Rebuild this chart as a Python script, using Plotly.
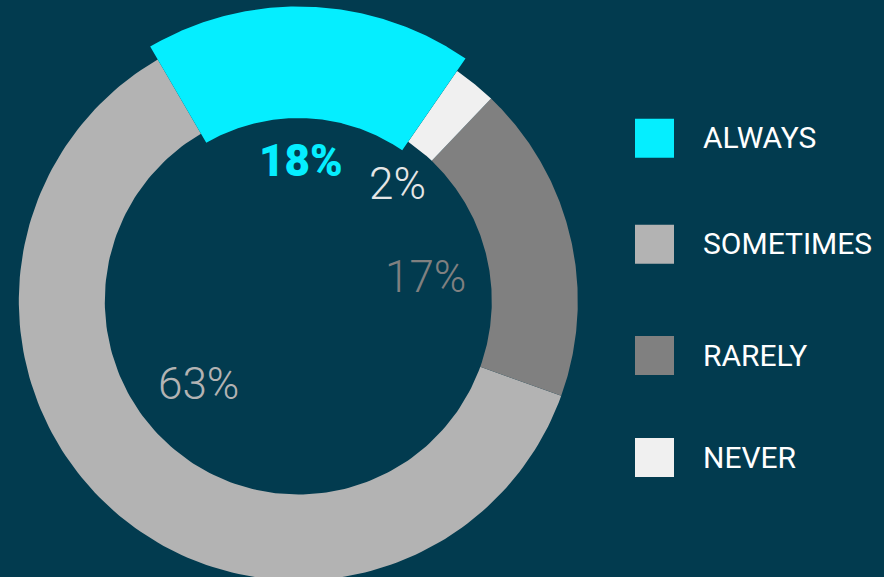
import math
import plotly.graph_objects as go

# ---- data -------------------------------------------------------------
categories = ["ALWAYS", "SOMETIMES", "RARELY", "NEVER"]
arc_share = [18.0, 61.1, 18.4, 2.5]      # share of the ring each arc covers
reported_pct = [18, 63, 17, 2]           # percentages printed on the chart
highlight = "ALWAYS"

# ---- style / layout -----------------------------------------------------
colors = ["#05EEFF", "#B3B3B3", "#808080", "#F0F0F0"]
label_colors = ["#05EEFF", "#B3B3B3", "#808080", "#E6E6E6"]
BG = "#023B4F"
W, H = 884, 577
CX, CY = 298.3, 301.0
R_OUT, R_IN = 279.5, 193.5
HL_OUT, HL_IN = 294.5, 183.0
START = 34.6                      # deg clockwise from 12 o'clock; arcs run counter-clockwise
label_pos = [(301, 161), (198, 384), (425, 277), (397, 184)]
legend_x, legend_text_x = 654.5, 701
legend_y = [138.3, 244.3, 355.5, 457.5]
FONT = "Roboto, Inter, Arial, sans-serif"


def arc_polygon(a0, a1, r_in, r_out, n=160):
    angs = [a0 + (a1 - a0) * i / n for i in range(n + 1)]
    xs = [CX + r_out * math.sin(math.radians(a)) for a in angs]
    ys = [CY - r_out * math.cos(math.radians(a)) for a in angs]
    xs += [CX + r_in * math.sin(math.radians(a)) for a in reversed(angs)]
    ys += [CY - r_in * math.cos(math.radians(a)) for a in reversed(angs)]
    xs.append(xs[0])
    ys.append(ys[0])
    return xs, ys


fig = go.Figure()
total = sum(arc_share)
angle = START
arcs = []
for cat, share, col in zip(categories, arc_share, colors):
    span = share / total * 360.0
    arcs.append((cat, angle, angle - span, col))
    angle -= span

# ring arcs first, highlighted arc last (on top, with larger radii)
for cat, a0, a1, col in sorted(arcs, key=lambda t: t[0] == highlight):
    if cat == highlight:
        xs, ys = arc_polygon(a0, a1, HL_IN, HL_OUT)
    else:
        xs, ys = arc_polygon(a0, a1, R_IN, R_OUT)
    fig.add_trace(go.Scatter(x=xs, y=ys, mode="lines", fill="toself",
                             fillcolor=col, line=dict(width=0, color=col),
                             hoverinfo="skip", showlegend=False, name=cat))

# legend squares
fig.add_trace(go.Scatter(x=[legend_x] * len(categories), y=legend_y, mode="markers",
                         marker=dict(symbol="square", size=39, color=colors, line=dict(width=0)),
                         hoverinfo="skip", showlegend=False))

annotations = []
for cat, y in zip(categories, legend_y):
    annotations.append(dict(x=legend_text_x, y=y - 0.5, text=cat, showarrow=False,
                            xanchor="left", yanchor="middle",
                            font=dict(family=FONT, size=30, color="#FFFFFF", weight=400)))

for cat, pct, col, (px, py) in zip(categories, reported_pct, label_colors, label_pos):
    bold = cat == highlight
    annotations.append(dict(x=px, y=py, text=f"{pct}%", showarrow=False,
                            xanchor="center", yanchor="middle",
                            font=dict(family=FONT, size=44, color=col,
                                      weight=900 if bold else 300)))

fig.update_layout(
    width=W, height=H,
    margin=dict(l=0, r=0, t=0, b=0),
    paper_bgcolor=BG, plot_bgcolor=BG,
    xaxis=dict(range=[0, W], visible=False, fixedrange=True),
    yaxis=dict(range=[H, 0], visible=False, fixedrange=True),
    annotations=annotations,
    showlegend=False,
)

fig.write_html("out.html")
